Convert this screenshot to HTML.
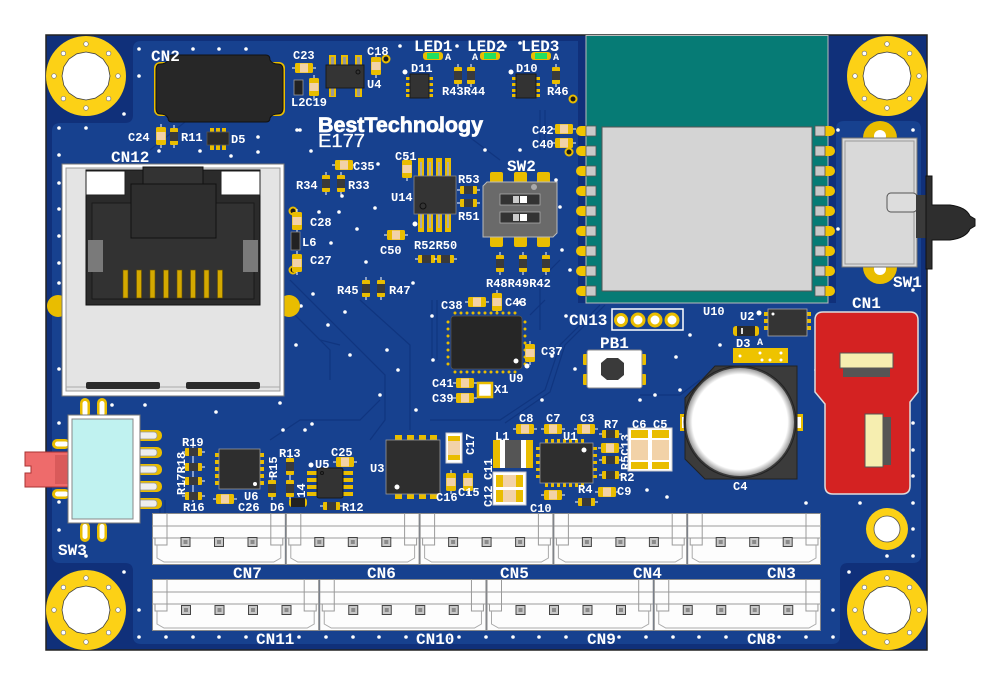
<!DOCTYPE html>
<html><head><meta charset="utf-8">
<style>
html,body{margin:0;padding:0;background:#fff;}
svg{display:block}
text{font-family:"Liberation Mono","DejaVu Sans Mono",monospace;font-weight:bold;fill:#fff}
.s{font-size:12px}
.b{font-size:16px}
.t{font-size:10px}
</style></head><body>
<svg width="1000" height="686" viewBox="0 0 1000 686" xmlns="http://www.w3.org/2000/svg">
<defs>
 <g id="ch"><line x1="-3" y1="5" x2="21" y2="5" stroke="#fff" stroke-width="1"/><rect width="18" height="10" rx="1.5" fill="#e9bd00"/><rect x="5" y="0.5" width="8" height="9" fill="#f2d2a8"/></g>
 <g id="cv"><line x1="5" y1="-3" x2="5" y2="21" stroke="#fff" stroke-width="1"/><rect width="10" height="18" rx="1.5" fill="#e9bd00"/><rect x="0.5" y="5" width="9" height="8" fill="#f2d2a8"/></g>
 <g id="rh"><line x1="-3" y1="4" x2="20" y2="4" stroke="#fff" stroke-width="1"/><rect width="17" height="8" rx="1" fill="#e9bd00"/><rect x="4" y="0" width="9" height="8" fill="#3a3a3a"/></g>
 <g id="rv"><line x1="4" y1="-3" x2="4" y2="20" stroke="#fff" stroke-width="1"/><rect width="8" height="17" rx="1" fill="#e9bd00"/><rect x="0" y="4" width="8" height="9" fill="#3a3a3a"/></g>
 <g id="mh">
  <circle r="40" fill="#fcd116"/>
  <polygon points="24,0 22.2,9.2 17,17 9.2,22.2 0,24 -9.2,22.2 -17,17 -22.2,9.2 -24,0 -22.2,-9.2 -17,-17 -9.2,-22.2 0,-24 9.2,-22.2 17,-17 22.2,-9.2" fill="#fff" stroke="#444" stroke-width="0.8"/>
  <g fill="#fff" stroke="#777" stroke-width="0.7">
   <circle cx="0" cy="-32" r="2.3"/><circle cx="22.6" cy="-22.6" r="2.3"/><circle cx="32" cy="0" r="2.3"/><circle cx="22.6" cy="22.6" r="2.3"/>
   <circle cx="0" cy="32" r="2.3"/><circle cx="-22.6" cy="22.6" r="2.3"/><circle cx="-32" cy="0" r="2.3"/><circle cx="-22.6" cy="-22.6" r="2.3"/>
  </g>
 </g>
 <g id="pin"><rect x="-4.5" y="-4.5" width="9" height="9" fill="#c8c8c8" stroke="#444" stroke-width="1"/><rect x="-2" y="-2" width="4" height="4" fill="#8a8a8a"/></g>
 <g id="c3">
  <rect x="0.5" y="0.5" width="132.8" height="51" fill="#fdfdfd" stroke="#8a8a8a"/>
  <path d="M0.5,13H133.3 M15,0.5V25 M118.8,0.5V25 M0.5,25H133.3" stroke="#9a9a9a" fill="none"/>
  <path d="M3,25V32H15V25 M130.8,25V32H118.8V25" stroke="#9a9a9a" fill="none"/>
  <path d="M5,32V45L12,49H121.8L128.8,45V32" stroke="#aaa" fill="none"/>
  <use href="#pin" x="33.5" y="29"/><use href="#pin" x="67" y="29"/><use href="#pin" x="100.5" y="29"/>
 </g>
 <g id="c4">
  <rect x="0.5" y="0.5" width="166.2" height="51" fill="#fdfdfd" stroke="#8a8a8a"/>
  <path d="M0.5,13H166.7 M15,0.5V25 M152.2,0.5V25 M0.5,25H166.7" stroke="#9a9a9a" fill="none"/>
  <path d="M3,25V32H15V25 M164.2,25V32H152.2V25" stroke="#9a9a9a" fill="none"/>
  <path d="M5,32V45L12,49H155.2L162.2,45V32" stroke="#aaa" fill="none"/>
  <use href="#pin" x="34" y="31"/><use href="#pin" x="67.5" y="31"/><use href="#pin" x="101" y="31"/><use href="#pin" x="134.5" y="31"/>
 </g>
 <g id="lpad"><path d="M11,-5 H4 A5,5 0 0 0 4,5 H11 Z" fill="#f0c400"/><rect x="9" y="-5" width="10" height="10" fill="#c9c9c9" stroke="#555" stroke-width="0.8"/></g>
 <g id="rpad"><path d="M8,-5 H15 A5,5 0 0 1 15,5 H8 Z" fill="#f0c400"/><rect x="0" y="-5" width="10" height="10" fill="#c9c9c9" stroke="#555" stroke-width="0.8"/></g>
 <radialGradient id="coin" cx="0.5" cy="0.5" r="0.5">
  <stop offset="0.88" stop-color="#ffffff"/><stop offset="1" stop-color="#9a9a9a"/>
 </radialGradient>
</defs>

<!-- board -->
<rect x="46" y="35" width="881" height="615" fill="#10307a" stroke="#222" stroke-width="1.5"/>
<path d="M52,131 Q52,123 60,123 H125 Q133,123 133,115 V49 Q133,41 141,41 H578 V303 H836 V129 Q836,121 844,121 H913 Q921,121 921,129 V555 Q921,563 913,563 H848 Q840,563 840,571 V636 Q840,644 832,644 H141 Q133,644 133,636 V571 Q133,563 125,563 H60 Q52,563 52,555 Z" fill="#17418f"/>

<!-- faint traces -->
<g stroke="#10357f" stroke-width="1.2" fill="none">
 <path d="M290,280 L340,330 L385,375 V420 L370,440"/>
 <path d="M300,320 L330,350 V380"/>
 <path d="M280,300 L320,340 L340,345"/>
 <path d="M360,300 L410,345 V430"/>
 <path d="M432,300 V360"/><path d="M437,300 V360"/>
 <path d="M545,300 L530,315"/>
 <path d="M600,305 L560,345 L545,390 L500,420 H430"/>
 <path d="M605,305 L565,345 L550,392 L505,423"/>
 <path d="M560,260 L540,280 V330"/>
 <path d="M150,150 L200,110"/>
 <path d="M270,440 L300,420 H360 L380,400"/>
 <path d="M640,395 L680,395 L700,380"/>
 <path d="M160,500 V560"/><path d="M165,500 V560"/>
 <path d="M460,130 L500,160"/><path d="M540,110 V150"/><path d="M545,110 V150"/>
</g>

<!-- mounting holes -->
<use href="#mh" x="86" y="76"/>
<use href="#mh" x="887" y="76"/>
<use href="#mh" x="86" y="610"/>
<use href="#mh" x="887" y="610"/>
<circle cx="887" cy="529" r="21" fill="#fcd116"/><circle cx="887" cy="529" r="13" fill="#fff" stroke="#555" stroke-width="0.8"/>

<!-- vias -->
<g fill="#fff">
 <circle cx="139" cy="49" r="1.8"/><circle cx="193" cy="49" r="1.8"/><circle cx="219" cy="49" r="1.8"/><circle cx="246" cy="49" r="1.8"/>
 <circle cx="139" cy="76" r="1.8"/><circle cx="124" cy="114" r="1.8"/><circle cx="59" cy="128" r="1.8"/><circle cx="86" cy="128" r="1.8"/>
 <circle cx="59" cy="155" r="1.8"/><circle cx="200" cy="151" r="1.8"/><circle cx="159" cy="151" r="1.8"/><circle cx="258" cy="137" r="1.8"/>
 <circle cx="258" cy="152" r="1.8"/><circle cx="231" cy="156" r="1.8"/><circle cx="59" cy="183" r="1.8"/><circle cx="59" cy="209" r="1.8"/>
 <circle cx="59" cy="236" r="1.8"/><circle cx="59" cy="263" r="1.8"/><circle cx="59" cy="283" r="1.8"/><circle cx="59" cy="369" r="1.8"/>
 <circle cx="59" cy="423" r="1.8"/><circle cx="59" cy="502" r="1.8"/><circle cx="59" cy="530" r="1.8"/><circle cx="124" cy="572" r="1.8"/>
 <circle cx="86" cy="556" r="1.8"/><circle cx="112" cy="405" r="1.8"/><circle cx="145" cy="405" r="1.8"/><circle cx="216" cy="412" r="1.8"/>
 <circle cx="280" cy="403" r="1.8"/><circle cx="312" cy="424" r="1.8"/><circle cx="283" cy="430" r="1.8"/><circle cx="305" cy="430" r="1.8"/>
 <circle cx="297" cy="130" r="1.8"/><circle cx="311" cy="151" r="1.8"/><circle cx="378" cy="164" r="1.8"/><circle cx="342" cy="196" r="1.8"/>
 <circle cx="319" cy="212" r="1.8"/><circle cx="339" cy="212" r="1.8"/><circle cx="357" cy="229" r="1.8"/><circle cx="375" cy="208" r="1.8"/>
 <circle cx="331" cy="243" r="1.8"/><circle cx="366" cy="262" r="1.8"/><circle cx="313" cy="294" r="1.8"/><circle cx="301" cy="306" r="1.8"/>
 <circle cx="328" cy="325" r="1.8"/><circle cx="345" cy="312" r="1.8"/><circle cx="296" cy="345" r="1.8"/><circle cx="350" cy="355" r="1.8"/>
 <circle cx="387" cy="350" r="1.8"/><circle cx="413" cy="283" r="1.8"/><circle cx="432" cy="316" r="1.8"/><circle cx="398" cy="370" r="1.8"/>
 <circle cx="380" cy="395" r="1.8"/><circle cx="416" cy="410" r="1.8"/><circle cx="433" cy="360" r="1.8"/><circle cx="542" cy="400" r="1.8"/>
 <circle cx="552" cy="356" r="1.8"/><circle cx="566" cy="316" r="1.8"/><circle cx="575" cy="369" r="1.8"/><circle cx="520" cy="302" r="1.8"/>
 <circle cx="556" cy="180" r="1.8"/><circle cx="560" cy="207" r="1.8"/><circle cx="562" cy="250" r="1.8"/><circle cx="570" cy="270" r="1.8"/>
 <circle cx="520" cy="43" r="1.8"/><circle cx="400" cy="46" r="1.8"/><circle cx="457" cy="46" r="1.8"/><circle cx="505" cy="46" r="1.8"/>
 <circle cx="300" cy="130" r="1.8"/><circle cx="440" cy="130" r="1.8"/><circle cx="485" cy="150" r="1.8"/><circle cx="520" cy="150" r="1.8"/>
 <circle cx="660" cy="300" r="1.8"/><circle cx="690" cy="335" r="1.8"/><circle cx="720" cy="345" r="1.8"/><circle cx="680" cy="390" r="1.8"/>
 <circle cx="640" cy="400" r="1.8"/><circle cx="655" cy="395" r="1.8"/><circle cx="676" cy="357" r="1.8"/><circle cx="647" cy="490" r="1.8"/>
 <circle cx="667" cy="497" r="1.8"/><circle cx="806" cy="503" r="1.8"/><circle cx="860" cy="503" r="1.8"/><circle cx="913" cy="503" r="1.8"/>
 <circle cx="913" cy="423" r="1.8"/><circle cx="913" cy="450" r="1.8"/><circle cx="913" cy="476" r="1.8"/><circle cx="913" cy="529" r="1.8"/>
 <circle cx="913" cy="556" r="1.8"/><circle cx="887" cy="556" r="1.8"/><circle cx="913" cy="290" r="1.8"/><circle cx="913" cy="130" r="1.8"/>
 <circle cx="838" cy="130" r="1.8"/><circle cx="838" cy="229" r="1.8"/><circle cx="833" cy="610" r="1.8"/><circle cx="849" cy="572" r="1.8"/>
 <circle cx="913" cy="396" r="1.8"/><circle cx="913" cy="370" r="1.8"/><circle cx="808" cy="300" r="1.8"/><circle cx="816" cy="370" r="1.8"/>
</g>
<g fill="#fff">
 <circle cx="139" cy="637" r="1.8"/><circle cx="166" cy="637" r="1.8"/><circle cx="193" cy="637" r="1.8"/><circle cx="219" cy="637" r="1.8"/>
 <circle cx="246" cy="637" r="1.8"/><circle cx="299" cy="637" r="1.8"/><circle cx="326" cy="637" r="1.8"/><circle cx="353" cy="637" r="1.8"/>
 <circle cx="379" cy="637" r="1.8"/><circle cx="406" cy="637" r="1.8"/><circle cx="459" cy="637" r="1.8"/><circle cx="486" cy="637" r="1.8"/>
 <circle cx="513" cy="637" r="1.8"/><circle cx="539" cy="637" r="1.8"/><circle cx="566" cy="637" r="1.8"/><circle cx="619" cy="637" r="1.8"/>
 <circle cx="646" cy="637" r="1.8"/><circle cx="673" cy="637" r="1.8"/><circle cx="699" cy="637" r="1.8"/><circle cx="726" cy="637" r="1.8"/>
 <circle cx="779" cy="637" r="1.8"/><circle cx="806" cy="637" r="1.8"/><circle cx="833" cy="637" r="1.8"/><circle cx="139" cy="610" r="1.8"/>
</g>
<g fill="#1a1a1a" stroke="#e9bd00" stroke-width="2">
 <circle cx="386" cy="59" r="3.5"/><circle cx="573" cy="99" r="3.5"/><circle cx="569" cy="152" r="3.5"/>
 <circle cx="293" cy="211" r="3.5"/><circle cx="293" cy="270" r="3.5"/>
</g>

<!-- CN2 -->
<rect x="154" y="62" width="131" height="54" rx="6" fill="#e9bd00"/>
<path d="M172,55 H266 Q270,55 270,60 Q272,64 278,64 Q283,64 283,70 V108 Q283,114 278,114 Q272,114 270,118 Q270,122 266,122 H172 Q168,122 168,118 Q166,114 160,114 Q156,114 156,108 V70 Q156,64 160,64 Q166,64 168,60 Q168,55 172,55 Z" fill="#272727" stroke="#111" stroke-width="1"/>
<text class="b" x="151" y="61">CN2</text>

<use href="#cv" x="156" y="127"/><use href="#rv" x="170" y="128"/>
<text class="s" x="128" y="141">C24</text><text class="s" x="181" y="141">R11</text>
<g fill="#e9bd00"><rect x="210" y="128" width="4" height="6"/><rect x="216" y="128" width="4" height="6"/><rect x="222" y="128" width="4" height="6"/>
<rect x="210" y="144" width="4" height="6"/><rect x="216" y="144" width="4" height="6"/><rect x="222" y="144" width="4" height="6"/></g>
<rect x="207" y="132" width="22" height="13" fill="#2b2b2b" stroke="#555" stroke-width="0.8"/>
<text class="s" x="231" y="143">D5</text>

<!-- RJ45 CN12 -->
<text class="b" x="111" y="162">CN12</text>
<circle cx="58" cy="306" r="11" fill="#e9bd00"/><circle cx="289" cy="306" r="11" fill="#e9bd00"/>
<rect x="62" y="164" width="222" height="232" fill="#fff" stroke="#777"/>
<rect x="66" y="168" width="214" height="223" fill="#e4e4e4" stroke="#999"/>
<line x1="66" y1="387" x2="280" y2="387" stroke="#aaa"/>
<rect x="86" y="382" width="74" height="7" rx="2" fill="#2b2b2b"/><rect x="186" y="382" width="74" height="7" rx="2" fill="#2b2b2b"/>
<rect x="86" y="170" width="174" height="135" fill="#2b2b2b" stroke="#111"/>
<rect x="92" y="203" width="162" height="96" fill="#323232" stroke="#1a1a1a"/>
<rect x="86" y="171" width="39" height="24" fill="#fff" stroke="#222"/>
<rect x="221" y="171" width="39" height="24" fill="#fff" stroke="#222"/>
<rect x="143" y="167" width="60" height="17" fill="#333" stroke="#111"/>
<rect x="131" y="184" width="85" height="54" fill="#2e2e2e" stroke="#111"/>
<rect x="88" y="240" width="15" height="32" fill="#7a7a7a"/><rect x="243" y="240" width="15" height="32" fill="#7a7a7a"/>
<g fill="#d4a900" stroke="#6a5200" stroke-width="0.6">
 <rect x="123" y="270" width="5" height="28"/><rect x="136.5" y="270" width="5" height="28"/><rect x="150" y="270" width="5" height="28"/><rect x="163.5" y="270" width="5" height="28"/>
 <rect x="177" y="270" width="5" height="28"/><rect x="190.5" y="270" width="5" height="28"/><rect x="204" y="270" width="5" height="28"/><rect x="217.5" y="270" width="5" height="28"/>
</g>

<!-- C23 L2 C19 U4 C18 -->
<use href="#ch" x="295" y="63"/><text class="s" x="293" y="59">C23</text>
<rect x="294" y="80" width="9" height="15" fill="#222" stroke="#999" stroke-width="0.8"/>
<use href="#cv" x="309" y="78"/><text class="s" x="291" y="106">L2C19</text>
<g fill="#e9bd00"><rect x="329" y="55" width="7" height="11"/><rect x="341" y="55" width="7" height="11"/><rect x="355" y="55" width="7" height="11"/>
<rect x="329" y="87" width="7" height="10"/><rect x="355" y="87" width="7" height="10"/></g>
<g fill="#999"><rect x="331" y="57" width="3" height="8"/><rect x="343" y="57" width="3" height="8"/><rect x="357" y="57" width="3" height="8"/><rect x="331" y="88" width="3" height="8"/><rect x="357" y="88" width="3" height="8"/></g>
<rect x="326" y="65" width="38" height="23" fill="#343434" stroke="#1a1a1a"/><circle cx="358" cy="72" r="2" fill="none" stroke="#111"/>
<text class="s" x="367" y="88">U4</text>
<use href="#cv" x="371" y="57"/><text class="s" x="367" y="55">C18</text>

<!-- LEDs -->
<text class="b" x="414" y="51">LED1</text><text class="b" x="467" y="51">LED2</text><text class="b" x="521" y="51">LED3</text>
<rect x="423" y="52" width="20" height="8" rx="3" fill="#e9bd00"/><rect x="427" y="53" width="12" height="6" fill="#22e060"/><text class="t" x="445" y="60">A</text>
<rect x="480" y="52" width="20" height="8" rx="3" fill="#e9bd00"/><rect x="484" y="53" width="12" height="6" fill="#22e060"/><text class="t" x="472" y="60">A</text>
<rect x="531" y="52" width="20" height="8" rx="3" fill="#e9bd00"/><rect x="535" y="53" width="12" height="6" fill="#22e060"/><text class="t" x="553" y="60">A</text>

<!-- D11 R43 R44 D10 R46 -->
<g fill="#e9bd00"><rect x="406" y="77" width="4" height="3"/><rect x="406" y="83" width="4" height="3"/><rect x="406" y="89" width="4" height="3"/><rect x="406" y="94" width="4" height="3"/>
<rect x="429" y="77" width="4" height="3"/><rect x="429" y="83" width="4" height="3"/><rect x="429" y="89" width="4" height="3"/><rect x="429" y="94" width="4" height="3"/>
<rect x="512" y="77" width="4" height="3"/><rect x="512" y="83" width="4" height="3"/><rect x="512" y="89" width="4" height="3"/><rect x="512" y="94" width="4" height="3"/>
<rect x="536" y="77" width="4" height="3"/><rect x="536" y="83" width="4" height="3"/><rect x="536" y="89" width="4" height="3"/><rect x="536" y="94" width="4" height="3"/></g>
<rect x="410" y="74" width="19" height="24" fill="#333" stroke="#1a1a1a"/><rect x="516" y="74" width="20" height="24" fill="#333" stroke="#1a1a1a"/>
<circle cx="405" cy="72" r="2.5" fill="#fff"/><circle cx="511" cy="72" r="2.5" fill="#fff"/>
<text class="s" x="411" y="72">D11</text><text class="s" x="516" y="72">D10</text>
<use href="#rv" x="454" y="67"/><use href="#rv" x="467" y="67"/><use href="#rv" x="552" y="67"/>
<text class="s" x="442" y="95">R43R44</text><text class="s" x="547" y="95">R46</text>

<!-- Logo -->
<text x="318" y="132" textLength="165" lengthAdjust="spacingAndGlyphs" stroke="#fff" stroke-width="0.7" style="font-family:'Liberation Sans',sans-serif;font-size:21px;font-weight:bold">BestTechnology</text>
<text x="318" y="147" textLength="47" lengthAdjust="spacingAndGlyphs" stroke="#fff" stroke-width="0.3" style="font-family:'Liberation Sans',sans-serif;font-size:18px;font-weight:normal">E177</text>

<!-- middle left comps -->
<use href="#ch" x="335" y="160"/><text class="s" x="353" y="170">C35</text>
<use href="#rv" x="322" y="175"/><use href="#rv" x="337" y="175"/>
<text class="s" x="296" y="189">R34</text><text class="s" x="348" y="189">R33</text>
<use href="#cv" x="402" y="160"/><text class="s" x="395" y="160">C51</text>
<g fill="#e9bd00"><rect x="418" y="158" width="6" height="19"/><rect x="427" y="158" width="6" height="19"/><rect x="436" y="158" width="6" height="19"/><rect x="445" y="158" width="6" height="19"/>
<rect x="418" y="213" width="6" height="19"/><rect x="427" y="213" width="6" height="19"/><rect x="436" y="213" width="6" height="19"/><rect x="445" y="213" width="6" height="19"/></g>
<g fill="#aaa"><rect x="420" y="162" width="2" height="14"/><rect x="429" y="162" width="2" height="14"/><rect x="438" y="162" width="2" height="14"/><rect x="447" y="162" width="2" height="14"/>
<rect x="420" y="214" width="2" height="14"/><rect x="429" y="214" width="2" height="14"/><rect x="438" y="214" width="2" height="14"/><rect x="447" y="214" width="2" height="14"/></g>
<rect x="414" y="176" width="42" height="38" fill="#343434" stroke="#888" stroke-width="0.8"/><circle cx="423" cy="206" r="3" fill="none" stroke="#111"/>
<circle cx="415" cy="224" r="2.5" fill="#fff"/>
<text class="s" x="391" y="201">U14</text>
<use href="#rh" x="460" y="186"/><use href="#rh" x="460" y="199"/>
<text class="s" x="458" y="183">R53</text><text class="s" x="458" y="220">R51</text>
<use href="#ch" x="387" y="230"/><text class="s" x="380" y="254">C50</text>
<use href="#rh" x="418" y="255"/><use href="#rh" x="437" y="255"/><text class="s" x="414" y="249">R52R50</text>
<use href="#cv" x="292" y="212"/><text class="s" x="310" y="226">C28</text>
<rect x="291" y="232" width="9" height="18" fill="#222" stroke="#888" stroke-width="0.8"/><text class="s" x="302" y="246">L6</text>
<use href="#cv" x="292" y="254"/><text class="s" x="310" y="264">C27</text>
<use href="#rv" x="362" y="280"/><use href="#rv" x="377" y="280"/>
<text class="s" x="337" y="294">R45</text><text class="s" x="389" y="294">R47</text>

<!-- SW2 -->
<text class="b" x="507" y="171">SW2</text>
<g fill="#e9bd00"><rect x="490" y="172" width="13" height="12" rx="2"/><rect x="514" y="172" width="13" height="12" rx="2"/><rect x="537" y="172" width="13" height="12" rx="2"/>
<rect x="490" y="235" width="13" height="12" rx="2"/><rect x="514" y="235" width="13" height="12" rx="2"/><rect x="537" y="235" width="13" height="12" rx="2"/></g>
<path d="M487,182 H557 V233 L553,237 H483 V186 Z" fill="#6a6a6a" stroke="#bbb"/>
<circle cx="534" cy="187" r="3" fill="#aaa"/>
<rect x="500" y="194" width="40" height="11" fill="#333" stroke="#aaa" stroke-width="0.8"/><rect x="513" y="196" width="6" height="7" fill="#ccc"/><rect x="520" y="196" width="7" height="7" fill="#fff"/>
<rect x="500" y="212" width="40" height="11" fill="#333" stroke="#aaa" stroke-width="0.8"/><rect x="513" y="214" width="6" height="7" fill="#ccc"/><rect x="520" y="214" width="7" height="7" fill="#fff"/>
<use href="#rv" x="496" y="255"/><use href="#rv" x="519" y="255"/><use href="#rv" x="542" y="255"/>
<text class="s" x="486" y="287">R48R49R42</text>

<use href="#ch" x="555" y="124"/><use href="#ch" x="555" y="138"/>
<text class="s" x="532" y="134">C42</text><text class="s" x="532" y="148">C40</text>

<!-- U9 area -->
<use href="#ch" x="468" y="297"/><text class="s" x="441" y="309">C38</text>
<use href="#cv" x="492" y="293"/><text class="s" x="505" y="306">C43</text>
<g fill="#e9bd00">
 <circle cx="455" cy="313" r="1.5"/><circle cx="461" cy="313" r="1.5"/><circle cx="467" cy="313" r="1.5"/><circle cx="473" cy="313" r="1.5"/><circle cx="479" cy="313" r="1.5"/><circle cx="485" cy="313" r="1.5"/><circle cx="491" cy="313" r="1.5"/><circle cx="497" cy="313" r="1.5"/><circle cx="503" cy="313" r="1.5"/><circle cx="509" cy="313" r="1.5"/><circle cx="515" cy="313" r="1.5"/>
 <circle cx="455" cy="372" r="1.5"/><circle cx="461" cy="372" r="1.5"/><circle cx="467" cy="372" r="1.5"/><circle cx="473" cy="372" r="1.5"/><circle cx="479" cy="372" r="1.5"/><circle cx="485" cy="372" r="1.5"/><circle cx="491" cy="372" r="1.5"/><circle cx="497" cy="372" r="1.5"/><circle cx="503" cy="372" r="1.5"/><circle cx="509" cy="372" r="1.5"/><circle cx="515" cy="372" r="1.5"/>
 <circle cx="448" cy="322" r="1.5"/><circle cx="448" cy="329" r="1.5"/><circle cx="448" cy="336" r="1.5"/><circle cx="448" cy="343" r="1.5"/><circle cx="448" cy="350" r="1.5"/><circle cx="448" cy="357" r="1.5"/><circle cx="448" cy="364" r="1.5"/>
 <circle cx="525" cy="322" r="1.5"/><circle cx="525" cy="329" r="1.5"/><circle cx="525" cy="336" r="1.5"/><circle cx="525" cy="343" r="1.5"/><circle cx="525" cy="350" r="1.5"/><circle cx="525" cy="357" r="1.5"/><circle cx="525" cy="364" r="1.5"/>
</g>
<rect x="451" y="316" width="71" height="53" rx="3" fill="#262626" stroke="#555" stroke-width="0.8"/><circle cx="516" cy="361" r="2.5" fill="#fff"/>
<circle cx="527" cy="366" r="2.5" fill="#fff"/>
<text class="s" x="509" y="382">U9</text>
<use href="#cv" x="525" y="344"/><text class="s" x="541" y="355">C37</text>
<use href="#ch" x="456" y="378"/><use href="#ch" x="456" y="393"/>
<text class="s" x="432" y="387">C41</text><text class="s" x="432" y="402">C39</text>
<rect x="478" y="383" width="14" height="14" fill="#fff" stroke="#e9bd00" stroke-width="2.5"/><text class="s" x="494" y="393">X1</text>

<!-- Module U10 -->
<rect x="586" y="35.5" width="242" height="267.5" fill="#067b75" stroke="#bbb" stroke-width="1"/>
<rect x="602" y="127" width="210" height="164" fill="#d4d4d4" stroke="#555" stroke-width="1"/>
<g>
 <use href="#lpad" x="577" y="131"/><use href="#lpad" x="577" y="151"/><use href="#lpad" x="577" y="171"/><use href="#lpad" x="577" y="191"/><use href="#lpad" x="577" y="211"/><use href="#lpad" x="577" y="231"/><use href="#lpad" x="577" y="251"/><use href="#lpad" x="577" y="271"/><use href="#lpad" x="577" y="291"/>
 <use href="#rpad" x="815" y="131"/><use href="#rpad" x="815" y="151"/><use href="#rpad" x="815" y="171"/><use href="#rpad" x="815" y="191"/><use href="#rpad" x="815" y="211"/><use href="#rpad" x="815" y="231"/><use href="#rpad" x="815" y="251"/><use href="#rpad" x="815" y="271"/><use href="#rpad" x="815" y="291"/>
</g>
<text class="s" x="703" y="315">U10</text>

<!-- SW1 -->
<circle cx="880" cy="138" r="17" fill="#e9bd00"/><circle cx="880" cy="267" r="17" fill="#e9bd00"/>
<circle cx="880" cy="136" r="6" fill="#fff"/><circle cx="880" cy="269" r="6" fill="#fff"/>
<rect x="842" y="138" width="75" height="129" fill="#d9d9d9" stroke="#777"/>
<rect x="845" y="141" width="69" height="123" fill="none" stroke="#999"/>
<rect x="887" y="193" width="30" height="19" rx="4" fill="#ddd" stroke="#555"/>
<rect x="916" y="195" width="10" height="43" fill="#3a3a3a"/>
<path d="M926,176 H932 V205 H950 Q966,207 970,216 L975,219 V226 L970,229 Q966,238 950,240 H932 V269 H926 Z" fill="#2e2e2e" stroke="#111"/>
<text class="b" x="893" y="287">SW1</text>

<!-- CN13 -->
<text class="b" x="569" y="325">CN13</text>
<rect x="612" y="309" width="71" height="21" fill="none" stroke="#fff" stroke-width="1.5"/>
<g fill="#fff" stroke="#e9bd00" stroke-width="3"><circle cx="621" cy="320" r="5.5"/><circle cx="638" cy="320" r="6"/><circle cx="655" cy="320" r="6"/><circle cx="672" cy="320" r="6"/></g>

<!-- U2 D3 -->
<text class="s" x="740" y="320">U2</text>
<g fill="#e9bd00"><rect x="764" y="312" width="5" height="4"/><rect x="764" y="319" width="5" height="4"/><rect x="764" y="326" width="5" height="4"/><rect x="806" y="312" width="5" height="4"/><rect x="806" y="319" width="5" height="4"/><rect x="806" y="326" width="5" height="4"/></g>
<rect x="768" y="309" width="39" height="27" fill="#343434" stroke="#aaa" stroke-width="0.8"/><circle cx="773" cy="314" r="1.5" fill="#fff"/>
<circle cx="759" cy="313" r="2.5" fill="#fff"/>
<rect x="733" y="326" width="26" height="10" rx="3" fill="#e9bd00"/><rect x="737" y="326" width="18" height="10" fill="#2a2a2a"/><rect x="741" y="328" width="2" height="6" fill="#ddd"/>
<text class="s" x="736" y="347">D3</text><text class="t" x="757" y="345">A</text>
<rect x="733" y="348" width="55" height="15" fill="#eec300"/>
<g fill="#fff"><circle cx="740" cy="356" r="1.5"/><circle cx="760" cy="353" r="1.5"/><circle cx="762" cy="360" r="1.5"/><circle cx="770" cy="360" r="1.5"/><circle cx="781" cy="353" r="1.5"/><circle cx="781" cy="360" r="1.5"/></g>

<!-- PB1 -->
<text class="b" x="600" y="348">PB1</text>
<g fill="#e9bd00"><rect x="583" y="354" width="8" height="11" rx="1"/><rect x="583" y="374" width="8" height="11" rx="1"/><rect x="638" y="354" width="8" height="11" rx="1"/><rect x="638" y="374" width="8" height="11" rx="1"/></g>
<rect x="587" y="350" width="55" height="38" rx="2" fill="#fff" stroke="#888"/>
<polygon points="601,363 607,358 618,358 624,363 624,375 618,380 607,380 601,375" fill="#3a3a3a"/>

<!-- C4 coin cell -->
<rect x="680" y="414" width="9" height="17" fill="#e9bd00"/><rect x="682" y="417" width="5" height="11" fill="#fff"/>
<rect x="794" y="414" width="9" height="17" fill="#e9bd00"/><rect x="796" y="417" width="5" height="11" fill="#fff"/>
<path d="M715,366 H797 V479 H705 L685,459 V398 Z" fill="#3b3b3b" stroke="#222"/>
<circle cx="740" cy="422" r="56" fill="none" stroke="#222" stroke-width="1"/>
<circle cx="740" cy="422" r="54" fill="url(#coin)"/>
<text class="s" x="733" y="490">C4</text>

<!-- CN1 -->
<text class="b" x="852" y="308">CN1</text>
<path d="M823,312 H910 Q918,312 918,320 V392 L910,402 V486 Q910,494 902,494 H833 Q825,494 825,486 V404 L815,392 V320 Q815,312 823,312 Z" fill="#d42222" stroke="#ddd" stroke-width="1.5"/>
<rect x="843" y="368" width="47" height="9" fill="#555"/>
<rect x="840" y="353" width="53" height="15" fill="#f6eeb0" stroke="#555"/>
<rect x="883" y="417" width="8" height="48" fill="#555"/>
<rect x="865" y="414" width="18" height="53" fill="#f6eeb0" stroke="#555"/>

<!-- power area -->
<g fill="#e9bd00">
 <rect x="395" y="435" width="7" height="6"/><rect x="407" y="435" width="7" height="6"/><rect x="419" y="435" width="7" height="6"/><rect x="430" y="435" width="7" height="6"/>
 <rect x="395" y="493" width="7" height="6"/><rect x="407" y="493" width="7" height="6"/><rect x="419" y="493" width="7" height="6"/><rect x="430" y="493" width="7" height="6"/>
</g>
<rect x="386" y="440" width="54" height="54" fill="#2e2e2e" stroke="#999" stroke-width="0.8"/><circle cx="397" cy="487" r="2.5" fill="#fff"/>
<text class="s" x="370" y="472">U3</text>
<rect x="446" y="433" width="16" height="30" fill="#fff" stroke="#ccc"/><rect x="448" y="436" width="12" height="24" fill="#e9bd00"/><rect x="448" y="441" width="12" height="14" fill="#f2d2a8"/>
<text class="s" x="474" y="455" transform="rotate(-90 474 455)">C17</text>
<use href="#cv" x="446" y="473"/><use href="#cv" x="463" y="473"/>
<text class="s" x="436" y="501">C16</text><text class="s" x="458" y="496">C15</text>
<rect x="493" y="440" width="40" height="28" fill="#e9bd00"/><rect x="500" y="440" width="26" height="28" fill="#fff"/><rect x="505" y="440" width="16" height="28" fill="#555"/>
<text class="s" x="495" y="440">L1</text>
<rect x="493" y="472" width="33" height="33" fill="#fff" stroke="#ccc"/>
<rect x="496" y="475" width="27" height="12" fill="#e9bd00"/><rect x="503" y="475" width="13" height="12" fill="#f2d2a8"/>
<rect x="496" y="490" width="27" height="12" fill="#e9bd00"/><rect x="503" y="490" width="13" height="12" fill="#f2d2a8"/>
<text class="s" x="492" y="480" transform="rotate(-90 492 480)">C11</text>
<text class="s" x="492" y="507" transform="rotate(-90 492 507)">C12</text>
<use href="#ch" x="516" y="424"/><use href="#ch" x="544" y="424"/><use href="#ch" x="577" y="424"/>
<text class="s" x="519" y="422">C8</text><text class="s" x="546" y="422">C7</text><text class="s" x="580" y="422">C3</text>
<g fill="#e9bd00">
 <rect x="545" y="439" width="3" height="4"/><rect x="551" y="439" width="3" height="4"/><rect x="557" y="439" width="3" height="4"/><rect x="563" y="439" width="3" height="4"/><rect x="569" y="439" width="3" height="4"/><rect x="575" y="439" width="3" height="4"/><rect x="581" y="439" width="3" height="4"/>
 <rect x="545" y="483" width="3" height="4"/><rect x="551" y="483" width="3" height="4"/><rect x="557" y="483" width="3" height="4"/><rect x="563" y="483" width="3" height="4"/><rect x="569" y="483" width="3" height="4"/><rect x="575" y="483" width="3" height="4"/><rect x="581" y="483" width="3" height="4"/>
 <rect x="536" y="447" width="4" height="3"/><rect x="536" y="454" width="4" height="3"/><rect x="536" y="461" width="4" height="3"/><rect x="536" y="468" width="4" height="3"/><rect x="536" y="475" width="4" height="3"/>
 <rect x="593" y="447" width="4" height="3"/><rect x="593" y="454" width="4" height="3"/><rect x="593" y="461" width="4" height="3"/><rect x="593" y="468" width="4" height="3"/><rect x="593" y="475" width="4" height="3"/>
</g>
<rect x="540" y="443" width="53" height="40" fill="#2e2e2e" stroke="#999" stroke-width="0.8"/><circle cx="584" cy="450" r="2.5" fill="#fff"/>
<text class="s" x="563" y="440">U1</text>
<use href="#ch" x="544" y="490"/><text class="s" x="530" y="512">C10</text>
<use href="#rh" x="602" y="430"/><use href="#ch" x="601" y="443"/><use href="#rh" x="602" y="456"/><use href="#rh" x="602" y="471"/>
<text class="s" x="604" y="428">R7</text><text class="s" x="629" y="470" transform="rotate(-90 629 470)">R5C13</text>
<text class="s" x="620" y="481">R2</text>
<use href="#ch" x="598" y="487"/><text class="s" x="617" y="495">C9</text>
<use href="#rh" x="578" y="498"/><text class="s" x="578" y="493">R4</text>
<rect x="628" y="428" width="44" height="43" fill="#fff" stroke="#ccc"/>
<rect x="631" y="430" width="17" height="39" fill="#e9bd00"/><rect x="631" y="440" width="17" height="20" fill="#f2d2a8"/><rect x="631" y="438" width="17" height="2" fill="#fff"/><rect x="631" y="460" width="17" height="2" fill="#fff"/>
<rect x="652" y="430" width="17" height="39" fill="#e9bd00"/><rect x="652" y="440" width="17" height="20" fill="#f2d2a8"/><rect x="652" y="438" width="17" height="2" fill="#fff"/><rect x="652" y="460" width="17" height="2" fill="#fff"/>
<text class="s" x="632" y="428">C6</text><text class="s" x="653" y="428">C5</text>

<!-- bottom left group -->
<text class="s" x="182" y="446">R19</text>
<line x1="193" y1="446" x2="193" y2="502" stroke="#fff" stroke-width="1"/>
<use href="#rh" x="185" y="448"/><use href="#rh" x="185" y="463"/><use href="#rh" x="185" y="477"/><use href="#rh" x="185" y="492"/>
<text class="s" x="185" y="495" transform="rotate(-90 185 495)">R17R18</text>
<text class="s" x="183" y="511">R16</text>
<g fill="#e9bd00"><rect x="215" y="453" width="4" height="4"/><rect x="215" y="460" width="4" height="4"/><rect x="215" y="467" width="4" height="4"/><rect x="215" y="474" width="4" height="4"/><rect x="215" y="481" width="4" height="4"/>
<rect x="260" y="453" width="4" height="4"/><rect x="260" y="460" width="4" height="4"/><rect x="260" y="467" width="4" height="4"/><rect x="260" y="474" width="4" height="4"/><rect x="260" y="481" width="4" height="4"/></g>
<rect x="219" y="449" width="41" height="40" fill="#2e2e2e" stroke="#999" stroke-width="0.8"/><circle cx="255" cy="484" r="2" fill="#fff"/>
<use href="#ch" x="216" y="494"/><text class="s" x="244" y="500">U6</text><text class="s" x="238" y="511">C26</text>
<text class="s" x="279" y="457">R13</text><use href="#rv" x="286" y="458"/>
<use href="#rv" x="268" y="480"/><use href="#rv" x="286" y="480"/>
<text class="s" x="277" y="478" transform="rotate(-90 277 478)">R15</text>
<text class="s" x="305" y="505" transform="rotate(-90 305 505)">R14</text>
<rect x="289" y="498" width="18" height="9" rx="3" fill="#e9bd00"/><rect x="291" y="498" width="14" height="9" fill="#222"/>
<text class="s" x="270" y="511">D6</text>
<g fill="#e9bd00"><rect x="307" y="471" width="10" height="4"/><rect x="307" y="478" width="10" height="4"/><rect x="307" y="485" width="10" height="4"/><rect x="307" y="492" width="10" height="4"/>
<rect x="343" y="471" width="10" height="4"/><rect x="343" y="478" width="10" height="4"/><rect x="343" y="485" width="10" height="4"/><rect x="343" y="492" width="10" height="4"/></g>
<rect x="317" y="468" width="26" height="30" rx="2" fill="#333" stroke="#1a1a1a"/><circle cx="322" cy="473" r="1.5" fill="none" stroke="#111"/>
<circle cx="311" cy="465" r="2.5" fill="#fff"/>
<text class="s" x="315" y="468">U5</text>
<use href="#ch" x="336" y="457"/><text class="s" x="331" y="456">C25</text>
<use href="#rh" x="323" y="502"/><text class="s" x="342" y="511">R12</text>

<!-- SW3 -->
<g fill="#e9bd00">
 <rect x="80" y="398" width="10" height="20" rx="5"/><rect x="97" y="398" width="10" height="20" rx="5"/>
 <rect x="80" y="522" width="10" height="20" rx="5"/><rect x="97" y="522" width="10" height="20" rx="5"/>
 <rect x="52" y="439" width="18" height="10" rx="5"/><rect x="52" y="489" width="18" height="10" rx="5"/>
 <rect x="133" y="430" width="29" height="11" rx="5"/><rect x="133" y="447" width="29" height="11" rx="5"/><rect x="133" y="464" width="29" height="11" rx="5"/><rect x="133" y="481" width="29" height="11" rx="5"/><rect x="133" y="498" width="29" height="11" rx="5"/>
</g>
<g fill="#fff"><rect x="82.5" y="401" width="5" height="15" rx="2.5"/><rect x="99.5" y="401" width="5" height="15" rx="2.5"/><rect x="82.5" y="524" width="5" height="15" rx="2.5"/><rect x="99.5" y="524" width="5" height="15" rx="2.5"/>
<rect x="55" y="441.5" width="13" height="5" rx="2.5"/><rect x="55" y="491.5" width="13" height="5" rx="2.5"/></g>
<g fill="#eee" stroke="#999" stroke-width="0.8"><rect x="133" y="432" width="24" height="7" rx="3"/><rect x="133" y="449" width="24" height="7" rx="3"/><rect x="133" y="466" width="24" height="7" rx="3"/><rect x="133" y="483" width="24" height="7" rx="3"/><rect x="133" y="500" width="24" height="7" rx="3"/></g>
<path d="M68,452 H25 V466 H31 V473 H25 V487 H68 Z" fill="#ee6b6b" stroke="#a33"/>
<rect x="55" y="455" width="13" height="29" fill="#d95a5a"/>
<rect x="68" y="415" width="72" height="108" fill="#fff" stroke="#777"/>
<rect x="72" y="419" width="61" height="100" fill="#c0f2f0" stroke="#888"/>
<text class="b" x="58" y="555">SW3</text>

<!-- connectors row 1 -->
<use href="#c3" x="152" y="513"/><use href="#c3" x="285.8" y="513"/><use href="#c3" x="419.6" y="513"/><use href="#c3" x="553.4" y="513"/><use href="#c3" x="687.2" y="513"/>
<text class="b" x="233" y="578">CN7</text><text class="b" x="367" y="578">CN6</text><text class="b" x="500" y="578">CN5</text><text class="b" x="633" y="578">CN4</text><text class="b" x="767" y="578">CN3</text>
<!-- connectors row 2 -->
<use href="#c4" x="152" y="579"/><use href="#c4" x="319.25" y="579"/><use href="#c4" x="486.5" y="579"/><use href="#c4" x="653.75" y="579"/>
<text class="b" x="256" y="644">CN11</text><text class="b" x="416" y="644">CN10</text><text class="b" x="587" y="644">CN9</text><text class="b" x="747" y="644">CN8</text>
</svg>
</body></html>
